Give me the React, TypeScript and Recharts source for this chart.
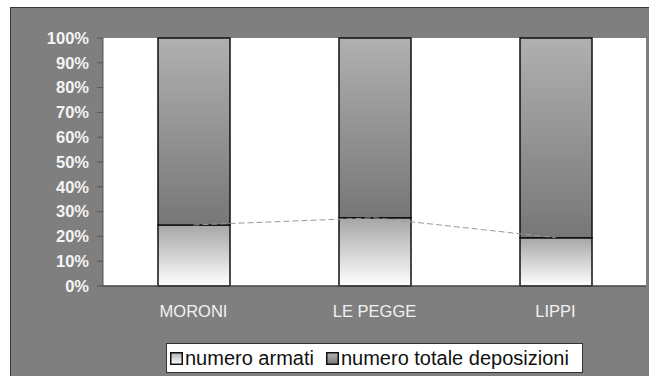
import {
  ComposedChart,
  Bar,
  Line,
  XAxis,
  YAxis,
  CartesianGrid,
  Legend,
} from "recharts";

const SITES = ["MORONI", "LE PEGGE", "LIPPI"];
const ARMATI = [24.6, 27.5, 19.5];
const DEPOSIZIONI = [75.4, 72.5, 80.5];
const Y_TICKS = [0, 10, 20, 30, 40, 50, 60, 70, 80, 90, 100];
const BOUNDARY_TICKS = [1, 2];

const data = SITES.map((site, i) => ({
  site,
  armati: ARMATI[i],
  deposizioni: DEPOSIZIONI[i],
}));

const LEGEND_ITEMS = ["numero armati", "numero totale deposizioni"];

function LegendBox() {
  return (
    <div
      style={{
        boxSizing: "border-box",
        width: 417,
        height: 30,
        background: "#fff",
        border: "1px solid #333",
        display: "flex",
        alignItems: "center",
        fontFamily: "Arial, 'Liberation Sans', sans-serif",
        fontSize: 20,
        color: "#111",
        paddingLeft: 3,
        whiteSpace: "nowrap",
      }}
    >
      {LEGEND_ITEMS.map((label, i) => (
        <span key={i} style={{ display: "inline-flex", alignItems: "center", marginRight: 12 }}>
          <svg width={13} height={13} style={{ marginRight: 2 }}>
            <defs>
              <linearGradient id={`lg${i}`} x1="0" y1="0" x2="0" y2="1">
                <stop offset="0%" stopColor={i === 0 ? "#b0b0b0" : "#b5b5b5"} />
                <stop offset="100%" stopColor={i === 0 ? "#ffffff" : "#7a7a7a"} />
              </linearGradient>
            </defs>
            <rect x={0.75} y={0.75} width={11.5} height={11.5} fill={`url(#lg${i})`} stroke="#111" strokeWidth={1.5} />
          </svg>
          {label}
        </span>
      ))}
    </div>
  );
}

export default function App() {
  return (
    <div
      style={{
        position: "fixed",
        left: 0,
        top: 0,
        width: 649,
        height: 376,
        background: "#fff",
        overflow: "hidden",
      }}
    >
      <div
        style={{
          position: "absolute",
          left: 10,
          top: 7,
          width: 640,
          height: 380,
          boxSizing: "border-box",
          background: "#7f7f7f",
          border: "1.5px solid #3a3a3a",
        }}
      />
      <div style={{ position: "absolute", left: 0, top: 0 }}>
        <ComposedChart
          width={649}
          height={376}
          data={data}
          margin={{ top: 38, right: 3, left: 0, bottom: 60 }}
        >
          <defs>
            <linearGradient id="gradArmati" x1="0" y1="0" x2="0" y2="1">
              <stop offset="0%" stopColor="#a6a6a6" />
              <stop offset="100%" stopColor="#ffffff" />
            </linearGradient>
            <linearGradient id="gradDepo" x1="0" y1="0" x2="0" y2="1">
              <stop offset="0%" stopColor="#b0b0b0" />
              <stop offset="100%" stopColor="#777777" />
            </linearGradient>
          </defs>
          <CartesianGrid horizontal={false} vertical={false} fill="#ffffff" />
          <XAxis
            xAxisId="edge"
            type="number"
            domain={[0, SITES.length]}
            ticks={BOUNDARY_TICKS}
            height={0}
            tickFormatter={() => ""}
            tickSize={5}
            axisLine={false}
            tickLine={{ stroke: "#444" }}
          />
          <XAxis
            dataKey="site"
            height={30}
            tickLine={false}
            tickSize={0}
            tickMargin={19}
            axisLine={{ stroke: "#444", strokeWidth: 1.5 }}
            tick={{ fill: "#f2f2f2", fontSize: 16.5, fontFamily: "Arial, 'Liberation Sans', sans-serif" }}
          />
          <YAxis
            width={103}
            domain={[0, 100]}
            ticks={Y_TICKS}
            interval={0}
            tickFormatter={(v) => `${v}%`}
            tickSize={6}
            tickMargin={8}
            axisLine={{ stroke: "#555" }}
            tickLine={{ stroke: "#555" }}
            tick={{
              fill: "#f4f4f4",
              fontSize: 16.5,
              fontWeight: "bold",
              fontFamily: "Arial, 'Liberation Sans', sans-serif",
            }}
          />
          <Line
            dataKey="armati"
            stroke="#9a9a9a"
            strokeWidth={1}
            strokeDasharray="6 3"
            dot={false}
            activeDot={false}
            legendType="none"
            isAnimationActive={false}
          />
          <Bar
            dataKey="armati"
            name="numero armati"
            stackId="s"
            barSize={72}
            fill="url(#gradArmati)"
            stroke="#111"
            strokeWidth={1.5}
            isAnimationActive={false}
          />
          <Bar
            dataKey="deposizioni"
            name="numero totale deposizioni"
            stackId="s"
            barSize={72}
            fill="url(#gradDepo)"
            stroke="#111"
            strokeWidth={1.5}
            isAnimationActive={false}
          />
          <Legend
            layout="horizontal"
            verticalAlign="middle"
            align="center"
            content={() => <LegendBox />}
            wrapperStyle={{ left: 166, top: 343, width: 417, height: 30 }}
          />
        </ComposedChart>
      </div>
    </div>
  );
}
